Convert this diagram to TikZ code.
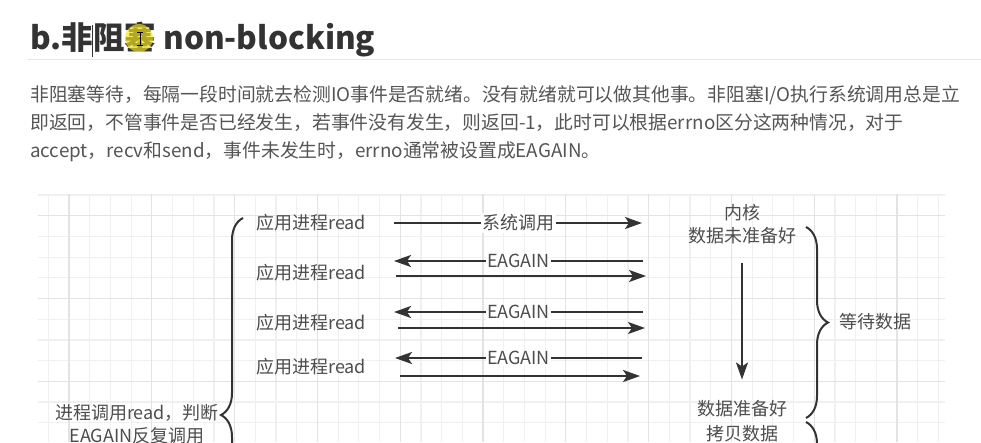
\documentclass[tikz,border=0pt]{standalone}
\usepackage{fontspec}
\setmainfont{Noto Sans CJK SC}
\usetikzlibrary{arrows.meta, positioning, decorations.pathreplacing}
\definecolor{postDark}{HTML}{333333}
\definecolor{postText}{HTML}{555555}
\definecolor{ruleGray}{HTML}{E6E6E6}
\definecolor{gridMinor}{HTML}{F0F0F0}
\definecolor{gridMajor}{HTML}{E3E3E3}
\definecolor{figText}{HTML}{4D4D4D}
\definecolor{cursorYellow}{HTML}{F7E61C}
\tikzset{
  arrowK/.style={-{Stealth[length=17pt, width=12pt, inset=4pt]}, color=postDark, line width=2pt},
  callLbl/.style={fill=white, inner sep=1.5pt, font=\fontsize{18}{21}\selectfont, text=figText},
  procTxt/.style={anchor=west, inner sep=0pt, font=\fontsize{18}{21}\selectfont, text=figText},
  kernTxt/.style={align=center, inner sep=0pt, font=\fontsize{18}{23}\selectfont, text=figText},
  braceK/.style={decorate, decoration={brace, amplitude=22pt}, line width=2pt, color=postDark},
  paraTxt/.style={anchor=west, inner sep=0pt, font=\fontsize{18.8}{28}\selectfont, text=postText},
}

\begin{document}
\begin{tikzpicture}[x=1pt, y=-1pt, font=\fontsize{18}{21}\selectfont]
  \useasboundingbox (0,0) rectangle (981,442);
  \clip (0,0) rectangle (981,442);
  \fill[white] (0,0) rectangle (981,442);

  % heading and text of the post
  \node[anchor=west, inner sep=0pt, font=\bfseries\fontsize{31.5}{35}\selectfont, text=postDark]
    (title) at (30,40) {b.非阻塞 non-blocking};
  \draw[ruleGray, line width=1pt] (28,59.5) -- (981,59.5);
  \node[paraTxt] (p1) at (30,95) {非阻塞等待，每隔一段时间就去检测IO事件是否就绪。没有就绪就可以做其他事。非阻塞I/O执行系统调用总是立};
  \node[paraTxt] (p2) at (30,123) {即返回，不管事件是否已经发生，若事件没有发生，则返回-1，此时可以根据errno区分这两种情况，对于};
  \node[paraTxt] (p3) at (30,152) {accept，recv和send，事件未发生时，errno通常被设置成EAGAIN。};

  % cursor marks
  \draw[postDark, line width=1pt] (92,25) -- (92,57);
  \fill[cursorYellow, fill opacity=0.65] (139,38) circle (14);
  \draw[black, line width=1pt] (137,32) -- (143,32) (140,32) -- (140,45) (137,45) -- (143,45);

  % grid
  \foreach \k in {0,...,43} {
    \pgfmathsetmacro{\gx}{48.3+\k*20.7}
    \draw[gridMinor, line width=1.2pt] (\gx,194) -- (\gx,442);
  }
  \foreach \k in {0,...,11} {
    \pgfmathsetmacro{\gy}{195+\k*20.7}
    \draw[gridMinor, line width=1.2pt] (38,\gy) -- (945,\gy);
  }
  \foreach \k in {1,5,...,41} {
    \pgfmathsetmacro{\gx}{48.3+\k*20.7}
    \draw[gridMajor, line width=1.2pt] (\gx,194) -- (\gx,442);
  }
  \foreach \k in {1,5,9} {
    \pgfmathsetmacro{\gy}{195+\k*20.7}
    \draw[gridMajor, line width=1.2pt] (38,\gy) -- (945,\gy);
  }

  % user side
  \node[procTxt] (r1) at (256,223) {应用进程read};
  \node[procTxt] (r2) at (256,273) {应用进程read};
  \node[procTxt] (r3) at (256,323) {应用进程read};
  \node[procTxt] (r4) at (256,367) {应用进程read};
  \draw[braceK] (243,612) -- (243,218);
  \node[kernTxt, anchor=north east] (loop) at (219,404) {进程调用read，判断\\EAGAIN反复调用};

  % kernel side
  \node[kernTxt] (kern) at (742,224.5) {内核\\数据未准备好};
  \node[kernTxt] (ready) at (742,409) {数据准备好};
  \node[kernTxt] (copy) at (742,434) {拷贝数据};
  \draw[arrowK, shorten <=18pt, shorten >=21pt] (kern.south) -- (ready.north);
  \draw[braceK] (806,227) -- (806,418);
  \node[kernTxt, anchor=west] (wait) at (839,322) {等待数据};
  \draw[braceK] (806,422) -- (806,540);

  % calls and replies
  \coordinate (u1) at (394,223); \coordinate (k1) at (642,223);
  \coordinate (k2) at (643,261); \coordinate (u2) at (394,261);
  \coordinate (u3) at (396,276); \coordinate (k3) at (646,276);
  \coordinate (k4) at (643,312); \coordinate (u4) at (394,312);
  \coordinate (u5) at (398,328); \coordinate (k5) at (645,328);
  \coordinate (k6) at (642,358); \coordinate (u6) at (395,358);
  \coordinate (u7) at (400,376); \coordinate (k7) at (640,376);
  \draw[arrowK] (u1) -- node[callLbl] (sys) {系统调用} (k1);
  \draw[arrowK] (k2) -- node[callLbl] (e1) {EAGAIN} (u2);
  \draw[arrowK] (u3) -- (k3);
  \draw[arrowK] (k4) -- node[callLbl] (e2) {EAGAIN} (u4);
  \draw[arrowK] (u5) -- (k5);
  \draw[arrowK] (k6) -- node[callLbl] (e3) {EAGAIN} (u6);
  \draw[arrowK] (u7) -- (k7);
\end{tikzpicture}
\end{document}
